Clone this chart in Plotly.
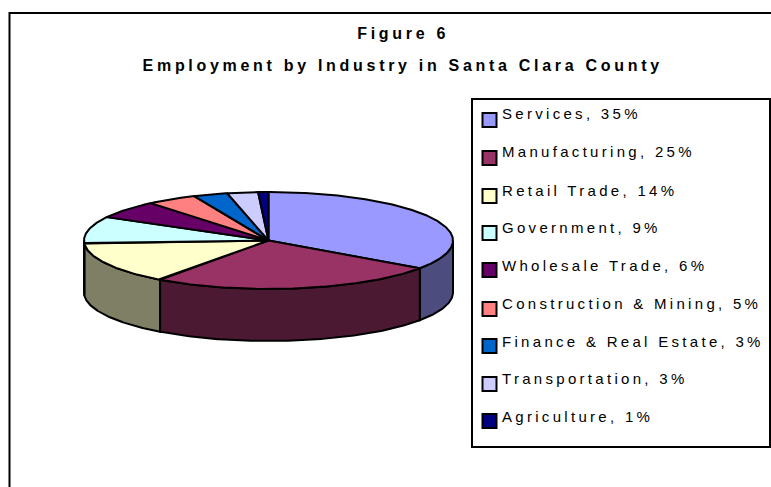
import numpy as np
import plotly.graph_objects as go

title_lines = ["Figure 6", "Employment by Industry in Santa Clara County"]
categories = ["Services", "Manufacturing", "Retail Trade", "Government", "Wholesale Trade",
              "Construction & Mining", "Finance & Real Estate", "Transportation", "Agriculture"]
labelled_pct = [35, 25, 14, 9, 6, 5, 3, 3, 1]
# slice sizes
shares = [34.7, 25.3, 14.0, 9.0, 6.0, 4.4, 3.0, 2.7, 0.9]
colors = ["#9999FF", "#993366", "#FFFFCC", "#CCFFFF", "#660066", "#FF8080", "#0066CC", "#CCCCFF", "#000080"]

W, H = 771, 487
cx, cy, rx, ry, depth = 268.5, 240.5, 184.5, 48.5, 52
legend_text_y = [115, 153.5, 192, 229, 267.5, 305, 343.5, 380, 418.5]
legend_swatch_y = [120, 158, 196, 233, 270, 309, 346, 384, 421]


def arc(a0, a1):
    t = np.radians(np.linspace(a0, a1, max(2, int(abs(a1 - a0) * 2) + 1)))
    return cx + rx * np.sin(t), cy - ry * np.cos(t)


def shade(hex_color):
    return "#" + "".join(f"{int(hex_color[i:i+2], 16) // 2:02X}" for i in (1, 3, 5))


edges = np.concatenate([[0], np.cumsum(shares)]) / sum(shares) * 360
fig = go.Figure()
LINE = dict(color="black", width=2)

# side walls of the visible front half
for i, c in enumerate(colors):
    a0, a1 = max(edges[i], 90), min(edges[i + 1], 270)
    if a0 >= a1:
        continue
    x, y = arc(a0, a1)
    fig.add_trace(go.Scatter(
        x=np.concatenate([x, x[::-1], x[:1]]),
        y=np.concatenate([y, y[::-1] + depth, y[:1]]),
        mode="lines", fill="toself", fillcolor=shade(c), line=LINE,
        hoverinfo="skip", showlegend=False))

# top faces
for i, c in enumerate(colors):
    x, y = arc(edges[i], edges[i + 1])
    fig.add_trace(go.Scatter(
        x=np.concatenate([[cx], x, [cx]]),
        y=np.concatenate([[cy], y, [cy]]),
        mode="lines", fill="toself", fillcolor=c, line=LINE,
        name=categories[i], hoverinfo="name", showlegend=False))

# legend
labels = [f"{c}, {p}%" for c, p in zip(categories, labelled_pct)]
fig.add_trace(go.Scatter(
    x=[489.5] * len(colors), y=legend_swatch_y, mode="markers",
    marker=dict(symbol="square", size=14, color=colors, line=dict(color="black", width=2)),
    hoverinfo="skip", showlegend=False))
fig.add_trace(go.Scatter(
    x=[502] * len(labels), y=legend_text_y, mode="text", text=labels,
    textposition="middle right",
    textfont=dict(family="Liberation Sans", size=15, color="black"),
    hoverinfo="skip", showlegend=False))

fig.update_layout(
    width=W, height=H, autosize=False,
    margin=dict(l=0, r=0, t=0, b=0), paper_bgcolor="white", plot_bgcolor="white",
    xaxis=dict(range=[0, W], visible=False, fixedrange=True),
    yaxis=dict(range=[H, 0], visible=False, fixedrange=True),
    shapes=[
        dict(type="rect", xref="x", yref="y", x0=9.5, y0=13, x1=W + 20, y1=H + 20,
             line=dict(color="black", width=2), fillcolor="white", layer="below"),
        dict(type="rect", xref="x", yref="y", x0=472, y0=99, x1=770, y1=447,
             line=dict(color="black", width=2), fillcolor="white", layer="below"),
    ],
    annotations=[
        dict(x=403, y=33, xref="x", yref="y", text=f"<b>{title_lines[0]}</b>", showarrow=False,
             font=dict(family="Liberation Sans", size=16, color="black")),
        dict(x=402, y=65, xref="x", yref="y", text=f"<b>{title_lines[1]}</b>", showarrow=False,
             font=dict(family="Liberation Sans", size=16, color="black")),
    ],
)

post = """
document.documentElement.style.margin='0';
document.documentElement.style.overflow='hidden';
document.body.style.margin='0';
var s=document.createElement('style');
s.textContent='.annotation-text{letter-spacing:3.7px} .textpoint text{letter-spacing:3.3px}';
document.head.appendChild(s);
"""
fig.write_html("out.html", post_script=post, config={"displayModeBar": False})
